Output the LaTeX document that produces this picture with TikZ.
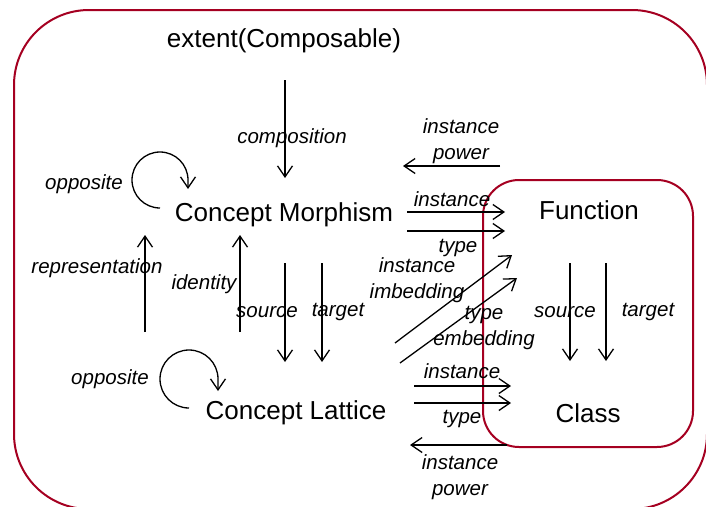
\documentclass[tikz,border=0pt]{standalone}
\usepackage{fontspec}
\setmainfont{Liberation Sans}
\usetikzlibrary{arrows.meta}
\definecolor{frame}{RGB}{165,0,33}
\begin{document}
\begin{tikzpicture}[x=1pt,y=-1pt,
  big/.style={font=\fontsize{26}{30}\selectfont, inner sep=0pt, yshift=-3pt},
  lbl/.style={font=\fontsize{20.5}{25.5}\selectfont\itshape, inner sep=0pt, align=center, yshift=-2pt},
  arr/.style={line width=1.3pt, -{Straight Barb[length=11pt,width=15pt]}},
  box/.style={draw=frame, line width=2pt}]
\useasboundingbox (0,0) rectangle (706,506);

% outer and inner regions
\draw[box, rounded corners=75pt] (14,10) rectangle (707,509);
\draw[box, rounded corners=36pt] (483,180) rectangle (693,447);

% main nodes
\node[big] (ext) at (284,38) {extent(Composable)};
\node[big] (cm) at (284,212) {Concept Morphism};
\node[big] (cl) at (296,410) {Concept Lattice};
\node[big] (fn) at (589,207) {Function};
\node[big] (cls) at (588,410) {Class};

% connector end points
\coordinate (compA) at (285,80);   \coordinate (compB) at (285,178);
\coordinate (repA) at (145,332);   \coordinate (repB) at (145,235);
\coordinate (idA) at (240,332);    \coordinate (idB) at (240,235);
\coordinate (srcA) at (285,263);   \coordinate (srcB) at (285,362);
\coordinate (tgtA) at (322,263);   \coordinate (tgtB) at (322,362);
\coordinate (ipA) at (500,166);    \coordinate (ipB) at (403,166);
\coordinate (inA) at (407,212);    \coordinate (inB) at (505,212);
\coordinate (tyA) at (407,231);    \coordinate (tyB) at (505,231);
\coordinate (imA) at (395,343);    \coordinate (imB) at (512,255);
\coordinate (emA) at (400,363);    \coordinate (emB) at (517,278);
\coordinate (lin A) at (414,386);  \coordinate (lin B) at (511,386);
\coordinate (lty A) at (414,403);  \coordinate (lty B) at (511,403);
\coordinate (lip A) at (507,445);  \coordinate (lip B) at (410,445);
\coordinate (fsA) at (570,263);    \coordinate (fsB) at (570,361);
\coordinate (ftA) at (606,263);    \coordinate (ftB) at (606,361);
\coordinate (loopM) at (160,208);  \coordinate (loopMend) at (188,189);
\coordinate (loopL) at (189,408);  \coordinate (loopLend) at (218,391);

% connectors
\draw[arr] (compA) -- (compB);
\draw[arr] (repA) -- (repB);
\draw[arr] (idA) -- (idB);
\draw[arr] (srcA) -- (srcB);
\draw[arr] (tgtA) -- (tgtB);
\draw[arr] (ipA) -- (ipB);
\draw[arr] (inA) -- (inB);
\draw[arr] (tyA) -- (tyB);
\draw[arr] (imA) -- (imB);
\draw[arr] (emA) -- (emB);
\draw[arr] (lin A) -- (lin B);
\draw[arr] (lty A) -- (lty B);
\draw[arr] (lip A) -- (lip B);
\draw[arr] (fsA) -- (fsB);
\draw[arr] (ftA) -- (ftB);
% self loops: clockwise arc, then a short downward run into the tip
\draw[arr] (loopM) arc[start angle=270, end angle=0, radius=28pt] -- (loopMend);
\draw[arr] (loopL) arc[start angle=270, end angle=0, radius=29pt] -- (loopLend);

% connector labels
\node[lbl] (lcomp) at (292,136) {composition};
\node[lbl] (lopM) at (84,182) {opposite};
\node[lbl] (lopL) at (110,377) {opposite};
\node[lbl] (lrep) at (97,266) {representation};
\node[lbl] (lid) at (204,282) {identity};
\node[lbl] (lsrc) at (267,310) {source};
\node[lbl] (ltgt) at (338,310) {target};
\node[lbl] (lip) at (461,139) {instance\\power};
\node[lbl] (lin) at (452,197) {instance};
\node[lbl] (lty) at (458,246) {type};
\node[lbl] (lim) at (417,278) {instance\\imbedding};
\node[lbl] (lem) at (484,326) {type\\embedding};
\node[lbl] (llin) at (462,369) {instance};
\node[lbl] (llty) at (462,417) {type};
\node[lbl] (llip) at (460,475) {instance\\power};
\node[lbl] (lfs) at (565,310) {source};
\node[lbl] (lft) at (648,310) {target};
\end{tikzpicture}
\end{document}
